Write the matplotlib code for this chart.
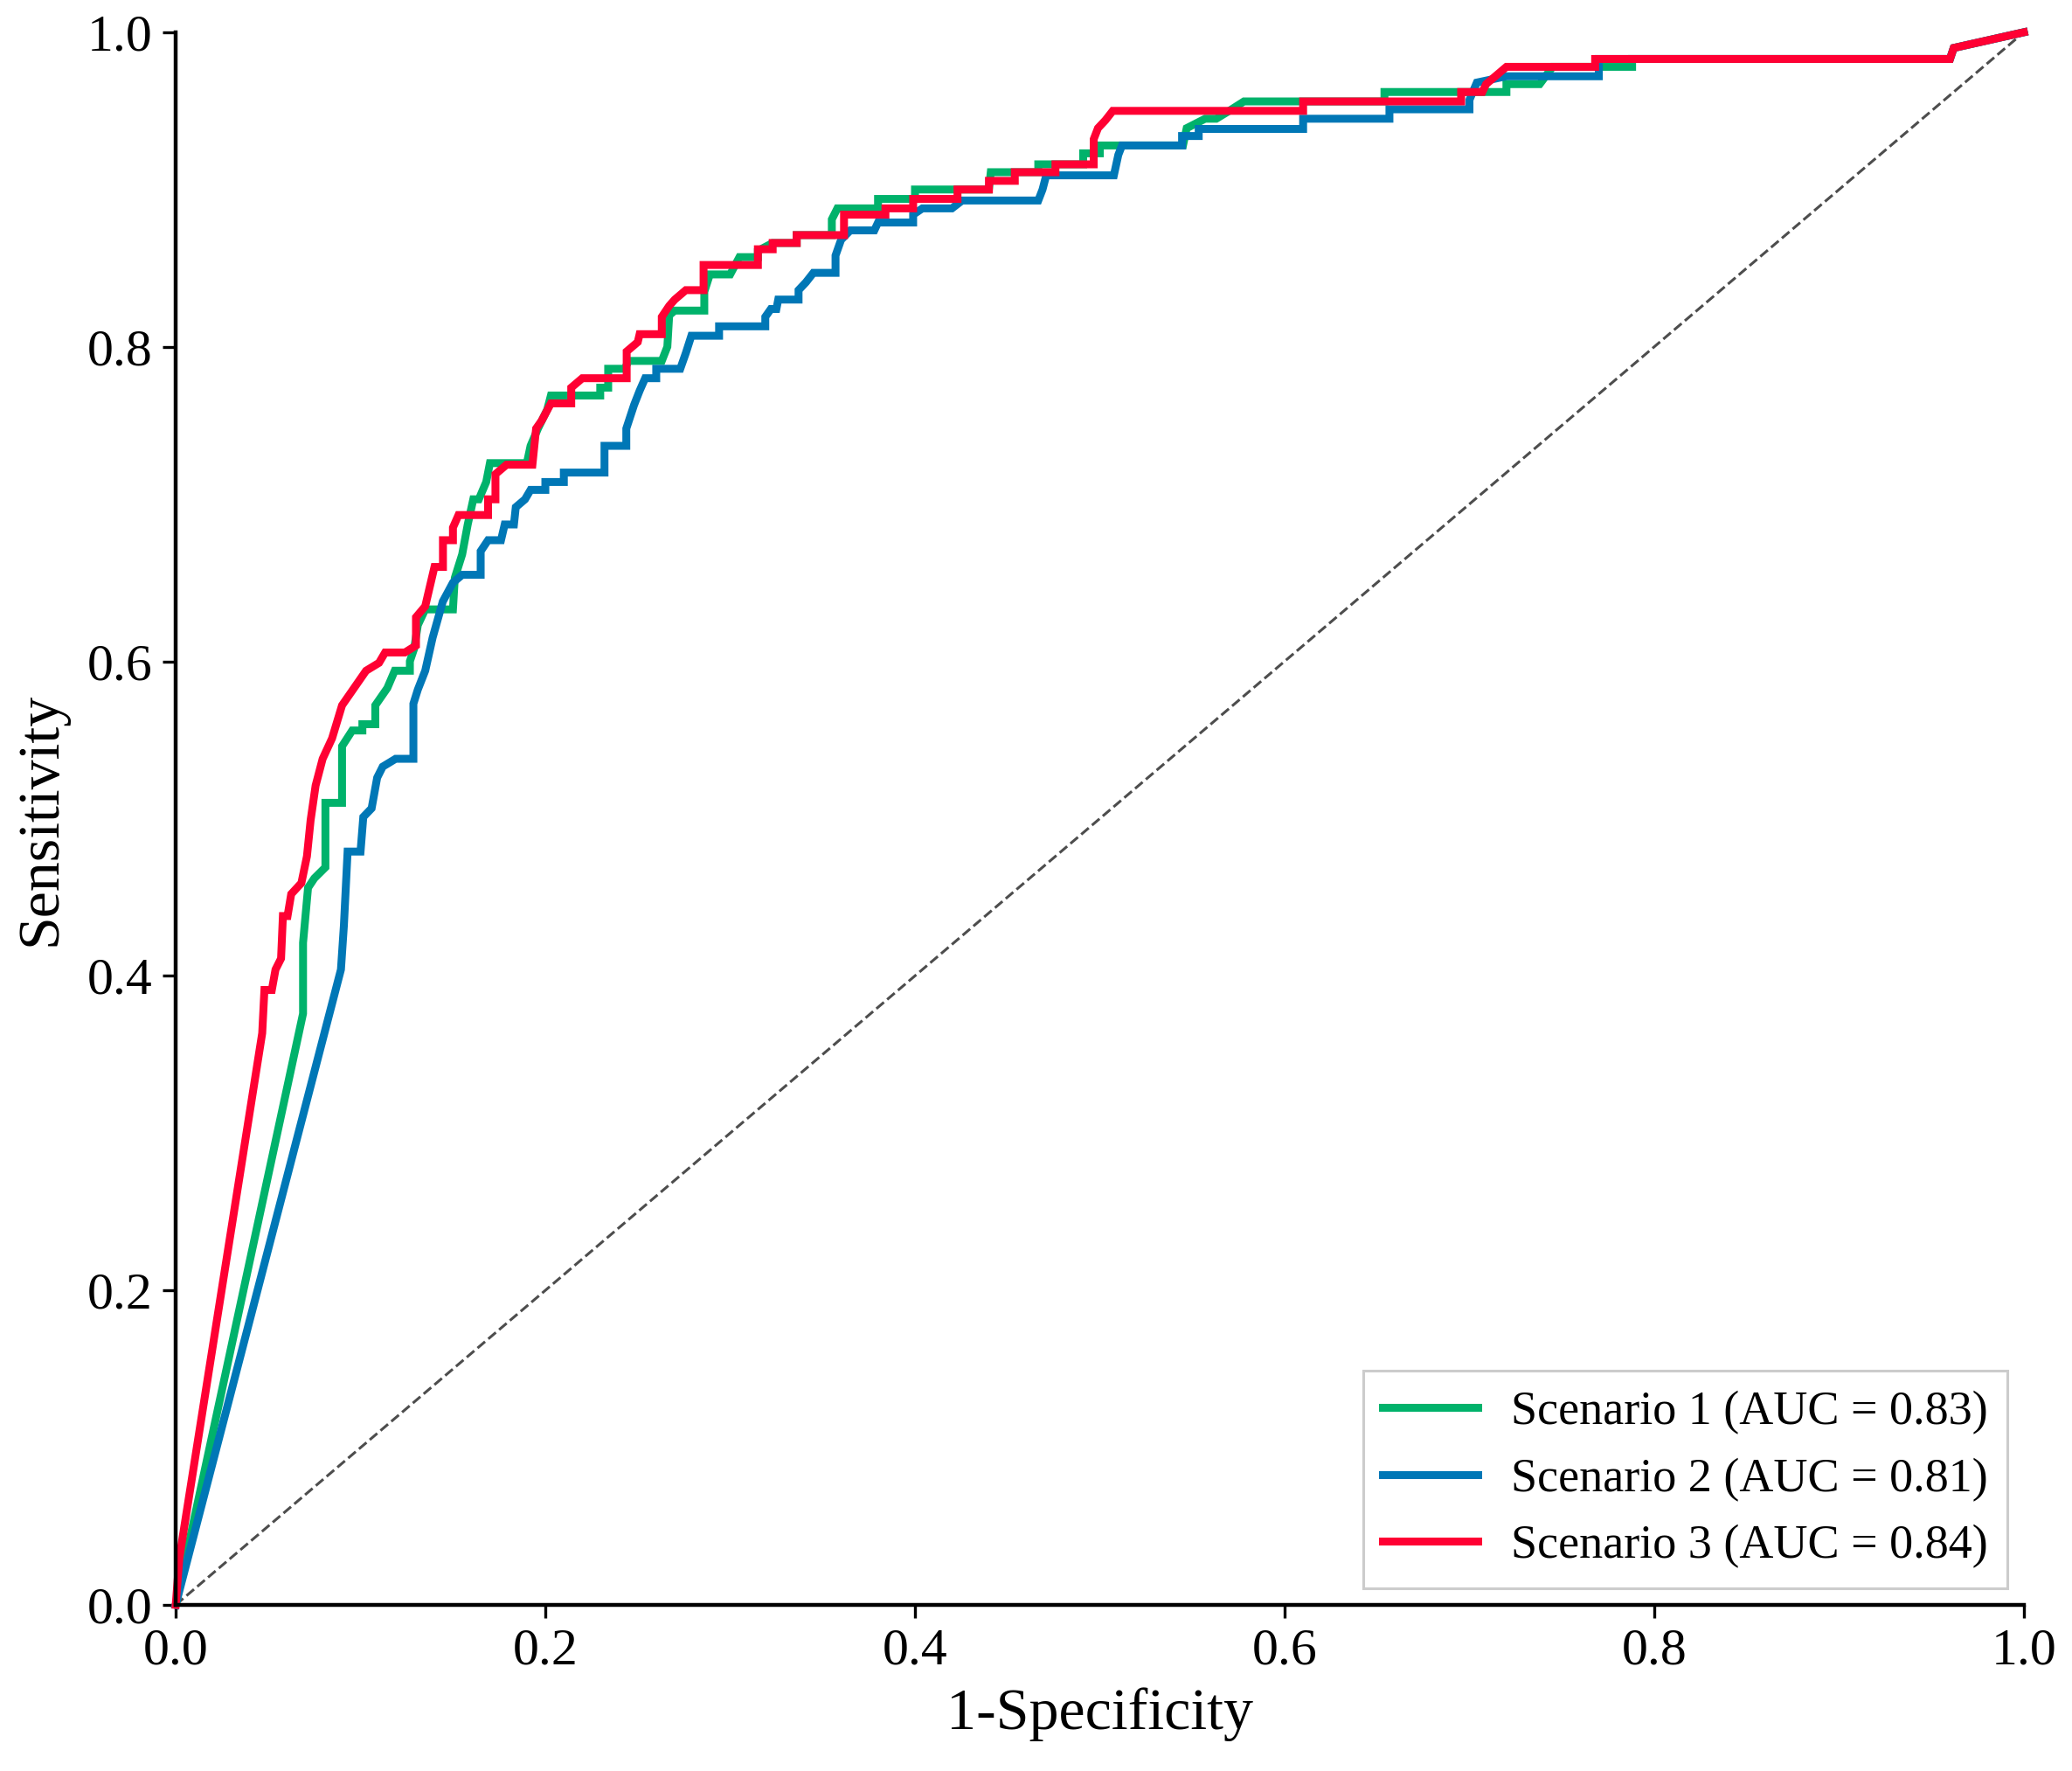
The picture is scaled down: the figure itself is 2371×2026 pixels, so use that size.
import matplotlib
matplotlib.use("Agg")
import matplotlib.pyplot as plt

# ── ROC curve vertices (1-specificity, sensitivity) ──────────────────────────
s1_fpr = [0, 0.0689, 0.0689, 0.0716, 0.075, 0.081, 0.081, 0.090, 0.090, 0.0955, 0.101, 0.101,
          0.108, 0.108, 0.1145, 0.1185, 0.1267, 0.1267, 0.129, 0.131, 0.135, 0.150, 0.151, 0.155,
          0.158, 0.161, 0.164, 0.168, 0.170, 0.190, 0.192, 0.196, 0.201, 0.203, 0.2297, 0.2297,
          0.234, 0.234, 0.243, 0.245, 0.263, 0.266, 0.267, 0.270, 0.286, 0.286, 0.289, 0.300,
          0.305, 0.315, 0.315, 0.323, 0.336, 0.336, 0.355, 0.355, 0.358, 0.380, 0.380, 0.400,
          0.400, 0.440, 0.441, 0.4667, 0.4667, 0.491, 0.491, 0.500, 0.500, 0.545, 0.547, 0.557,
          0.563, 0.570, 0.578, 0.654, 0.654, 0.720, 0.720, 0.738, 0.745, 0.788, 0.788, 0.960,
          0.962, 1.0]
s1_tpr = [0, 0.376, 0.421, 0.456, 0.462, 0.469, 0.510, 0.510, 0.546, 0.556, 0.556, 0.560,
          0.560, 0.572, 0.583, 0.594, 0.594, 0.600, 0.608, 0.623, 0.633, 0.633, 0.653, 0.668,
          0.687, 0.703, 0.703, 0.714, 0.726, 0.726, 0.737, 0.748, 0.760, 0.769, 0.769, 0.774,
          0.774, 0.786, 0.786, 0.791, 0.791, 0.800, 0.820, 0.823, 0.823, 0.835, 0.846, 0.846,
          0.857, 0.857, 0.861, 0.866, 0.866, 0.871, 0.871, 0.881, 0.888, 0.888, 0.894, 0.894,
          0.900, 0.900, 0.911, 0.911, 0.916, 0.916, 0.923, 0.923, 0.928, 0.928, 0.939, 0.945,
          0.945, 0.950, 0.956, 0.956, 0.962, 0.962, 0.967, 0.967, 0.978, 0.978, 0.983, 0.983,
          0.990, 1.0]

s2_fpr = [0, 0.0894, 0.091, 0.093, 0.100, 0.1015, 0.106, 0.109, 0.112, 0.119, 0.1286, 0.1286,
          0.131, 0.135, 0.139, 0.1445, 0.150, 0.155, 0.165, 0.165, 0.169, 0.176, 0.178, 0.183,
          0.184, 0.189, 0.192, 0.200, 0.200, 0.210, 0.210, 0.232, 0.232, 0.2438, 0.2438, 0.248,
          0.251, 0.254, 0.260, 0.260, 0.273, 0.276, 0.279, 0.294, 0.294, 0.319, 0.319, 0.322,
          0.325, 0.326, 0.337, 0.337, 0.341, 0.345, 0.357, 0.357, 0.360, 0.365, 0.378, 0.380,
          0.399, 0.399, 0.404, 0.420, 0.4255, 0.4667, 0.469, 0.471, 0.5076, 0.510, 0.512, 0.5445,
          0.5445, 0.5535, 0.5535, 0.610, 0.610, 0.6567, 0.6567, 0.700, 0.700, 0.704, 0.720, 0.770,
          0.770, 0.960, 0.962, 1.0]
s2_tpr = [0, 0.404, 0.432, 0.479, 0.479, 0.501, 0.5065, 0.526, 0.533, 0.538, 0.538, 0.573,
          0.582, 0.594, 0.615, 0.638, 0.650, 0.655, 0.655, 0.670, 0.677, 0.677, 0.687, 0.687,
          0.698, 0.703, 0.709, 0.709, 0.714, 0.714, 0.720, 0.720, 0.737, 0.737, 0.748, 0.763,
          0.772, 0.780, 0.780, 0.786, 0.786, 0.796, 0.807, 0.807, 0.813, 0.813, 0.819, 0.824,
          0.824, 0.830, 0.830, 0.836, 0.841, 0.847, 0.847, 0.858, 0.868, 0.874, 0.874, 0.879,
          0.879, 0.884, 0.888, 0.888, 0.893, 0.893, 0.900, 0.909, 0.909, 0.922, 0.928, 0.928,
          0.934, 0.934, 0.9385, 0.9385, 0.945, 0.945, 0.951, 0.951, 0.957, 0.968, 0.972, 0.972,
          0.983, 0.983, 0.990, 1.0]

s3_fpr = [0, 0.002, 0.0468, 0.048, 0.052, 0.054, 0.057, 0.058, 0.0605, 0.0625, 0.068, 0.071,
          0.073, 0.0757, 0.0795, 0.0846, 0.090, 0.0965, 0.103, 0.110, 0.1133, 0.124, 0.130, 0.130,
          0.135, 0.140, 0.1446, 0.1446, 0.150, 0.150, 0.153, 0.169, 0.169, 0.173, 0.173, 0.179,
          0.193, 0.195, 0.198, 0.203, 0.214, 0.214, 0.220, 0.244, 0.244, 0.250, 0.251, 0.263,
          0.263, 0.267, 0.270, 0.276, 0.2856, 0.2856, 0.315, 0.315, 0.323, 0.323, 0.336, 0.336,
          0.3616, 0.3616, 0.384, 0.384, 0.399, 0.399, 0.423, 0.423, 0.440, 0.440, 0.454, 0.454,
          0.476, 0.476, 0.4967, 0.4967, 0.499, 0.503, 0.507, 0.610, 0.610, 0.6955, 0.6955, 0.707,
          0.709, 0.716, 0.720, 0.768, 0.768, 0.960, 0.962, 1.0]
s3_tpr = [0, 0.030, 0.3635, 0.391, 0.391, 0.404, 0.411, 0.438, 0.438, 0.452, 0.459, 0.476,
          0.499, 0.521, 0.538, 0.551, 0.572, 0.583, 0.594, 0.599, 0.6056, 0.6056, 0.610, 0.628,
          0.635, 0.660, 0.660, 0.677, 0.677, 0.685, 0.693, 0.693, 0.703, 0.703, 0.719, 0.725,
          0.725, 0.748, 0.753, 0.764, 0.764, 0.774, 0.780, 0.780, 0.797, 0.803, 0.808, 0.808,
          0.819, 0.826, 0.830, 0.836, 0.836, 0.852, 0.852, 0.862, 0.862, 0.866, 0.866, 0.871,
          0.871, 0.884, 0.884, 0.888, 0.888, 0.894, 0.894, 0.900, 0.900, 0.9055, 0.9055, 0.911,
          0.911, 0.916, 0.916, 0.932, 0.939, 0.944, 0.950, 0.950, 0.956, 0.956, 0.962, 0.962,
          0.967, 0.974, 0.978, 0.978, 0.983, 0.983, 0.990, 1.0]

labels = ["Scenario 1 (AUC = 0.83)", "Scenario 2 (AUC = 0.81)", "Scenario 3 (AUC = 0.84)"]
colors = ["#00b26b", "#0077b6", "#ff0033"]
ticks = [0.0, 0.2, 0.4, 0.6, 0.8, 1.0]

# ── Styling ──────────────────────────────────────────────────────────────────
plt.rcParams["font.family"] = ["Liberation Serif", "DejaVu Serif"]

fig = plt.figure(figsize=(23.71, 20.26), dpi=100)
ax = fig.add_axes([0.0848, 0.0938, 0.892, 0.888])

curves = [(s1_fpr, s1_tpr), (s2_fpr, s2_tpr), (s3_fpr, s3_tpr)]
for (fx, ty), lab, col in zip(curves, labels, colors):
    ax.plot(fx, ty, color=col, lw=6.5, label=lab, solid_joinstyle="miter", clip_on=False)

# chance line
ax.plot([0, 1], [0, 1], color="#4d4d4d", lw=2.2, ls="--", zorder=1)

ax.set_xlim(0, 1)
ax.set_ylim(0, 1)
ax.set_xticks(ticks)
ax.set_yticks(ticks)
ax.set_xticklabels([f"{t:.1f}" for t in ticks])
ax.set_yticklabels([f"{t:.1f}" for t in ticks])
ax.tick_params(labelsize=43, width=2.4, length=11, pad=8, direction="out")

for side in ["top", "right"]:
    ax.spines[side].set_visible(False)
for side in ["left", "bottom"]:
    ax.spines[side].set_linewidth(3.2)

ax.set_xlabel("1-Specificity", fontsize=49, labelpad=10)
ax.set_ylabel("Sensitivity", fontsize=49, labelpad=16)

leg = ax.legend(loc="lower right", fontsize=39, frameon=True, fancybox=False,
                framealpha=1, edgecolor="#cccccc", handlelength=2.0,
                handletextpad=0.7, labelspacing=0.48, borderpad=0.42,
                borderaxespad=0.35)
leg.get_frame().set_linewidth(2.2)

fig.savefig("out.png", dpi=100)
